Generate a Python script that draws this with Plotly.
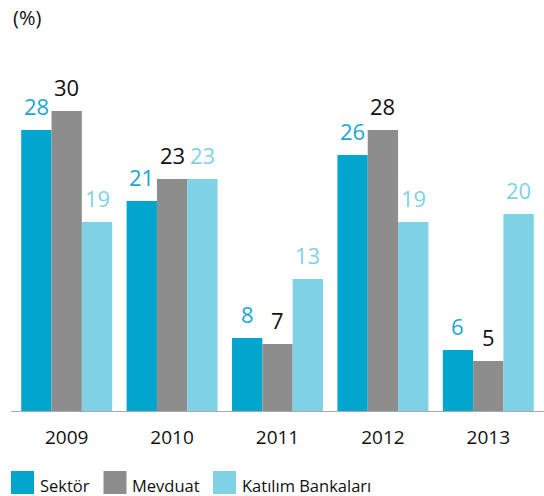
import plotly.graph_objects as go

years = ["2009", "2010", "2011", "2012", "2013"]
sektor = [28.2, 21.1, 7.4, 25.7, 6.2]
mevduat = [30.1, 23.3, 6.8, 28.2, 5.1]
katilim = [19.0, 23.3, 13.3, 19.0, 19.8]
sektor_labels = [28, 21, 8, 26, 6]
mevduat_labels = [30, 23, 7, 28, 5]
katilim_labels = [19, 23, 13, 19, 20]
series_names = ["Sektör", "Mevduat", "Katılım Bankaları"]
bar_colors = ["#00a6ce", "#8c8d8c", "#7fd2e6"]
label_colors = ["#1aa7d2", "#111111", "#7fd2e6"]

FONT = "Open Sans"
W, H = 544, 496
ML, MR, MT, MB = 14, 3, 31, 84
plot_w = W - ML - MR
plot_h = H - MT - MB
bargap = 0.137
bar_px = plot_w / len(years) * (1 - bargap) / 3

fig = go.Figure()
all_series = [sektor, mevduat, katilim]
all_labels = [sektor_labels, mevduat_labels, katilim_labels]
for name, vals, col in zip(series_names, all_series, bar_colors):
    fig.add_trace(go.Bar(x=years, y=vals, name=name, marker=dict(color=col, line=dict(width=0)),
                         showlegend=False, hoverinfo="x+y+name"))

annotations = []
for j, (vals, labs, lc) in enumerate(zip(all_series, all_labels, label_colors)):
    for i, (v, lab) in enumerate(zip(vals, labs)):
        annotations.append(dict(x=i, y=v, xref="x", yref="y", text=str(lab), showarrow=False,
                                xanchor="center", yanchor="bottom", xshift=(j - 1) * bar_px,
                                yshift=7, font=dict(family=FONT, size=22, color=lc)))

def px_x(p):
    return (p - ML) / plot_w

def px_y(p):
    return (H - MB - p) / plot_h

annotations.append(dict(x=px_x(11), y=px_y(18), xref="paper", yref="paper", text="(%)",
                        showarrow=False, xanchor="left", yanchor="middle",
                        font=dict(family=FONT, size=20, color="#111111")))

shapes = [dict(type="line", xref="paper", yref="y", x0=px_x(11), x1=px_x(544), y0=0, y1=0,
               line=dict(color="#aaaaaa", width=2), layer="above")]

legend_sq_x = [11, 103.5, 213]
legend_txt_x = [38, 130, 240]
for name, col, sx, tx in zip(series_names, bar_colors, legend_sq_x, legend_txt_x):
    shapes.append(dict(type="rect", xref="paper", yref="paper", x0=px_x(sx), x1=px_x(sx + 23),
                       y0=px_y(471), y1=px_y(494), fillcolor=col, line=dict(width=0)))
    annotations.append(dict(x=px_x(tx), y=px_y(485), xref="paper", yref="paper", text=name,
                            showarrow=False, xanchor="left", yanchor="middle",
                            font=dict(family=FONT, size=16.5, color="#111111")))

fig.update_layout(
    width=W, height=H,
    margin=dict(l=ML, r=MR, t=MT, b=MB),
    paper_bgcolor="white", plot_bgcolor="white",
    barmode="group", bargap=bargap, bargroupgap=0,
    font=dict(family=FONT, color="#111111"),
    xaxis=dict(type="category", showgrid=False, zeroline=False, showline=False, ticks="",
               tickfont=dict(family=FONT, size=19, color="#111111"), ticklabelstandoff=12,
               fixedrange=True),
    yaxis=dict(range=[0, plot_h / 10.0], visible=False, showgrid=False, zeroline=False,
               fixedrange=True),
    annotations=annotations,
    shapes=shapes,
    showlegend=False,
)

fig.write_html("out.html", config={"displayModeBar": False},
               post_script="document.body.style.margin='0';document.body.style.padding='0';")
